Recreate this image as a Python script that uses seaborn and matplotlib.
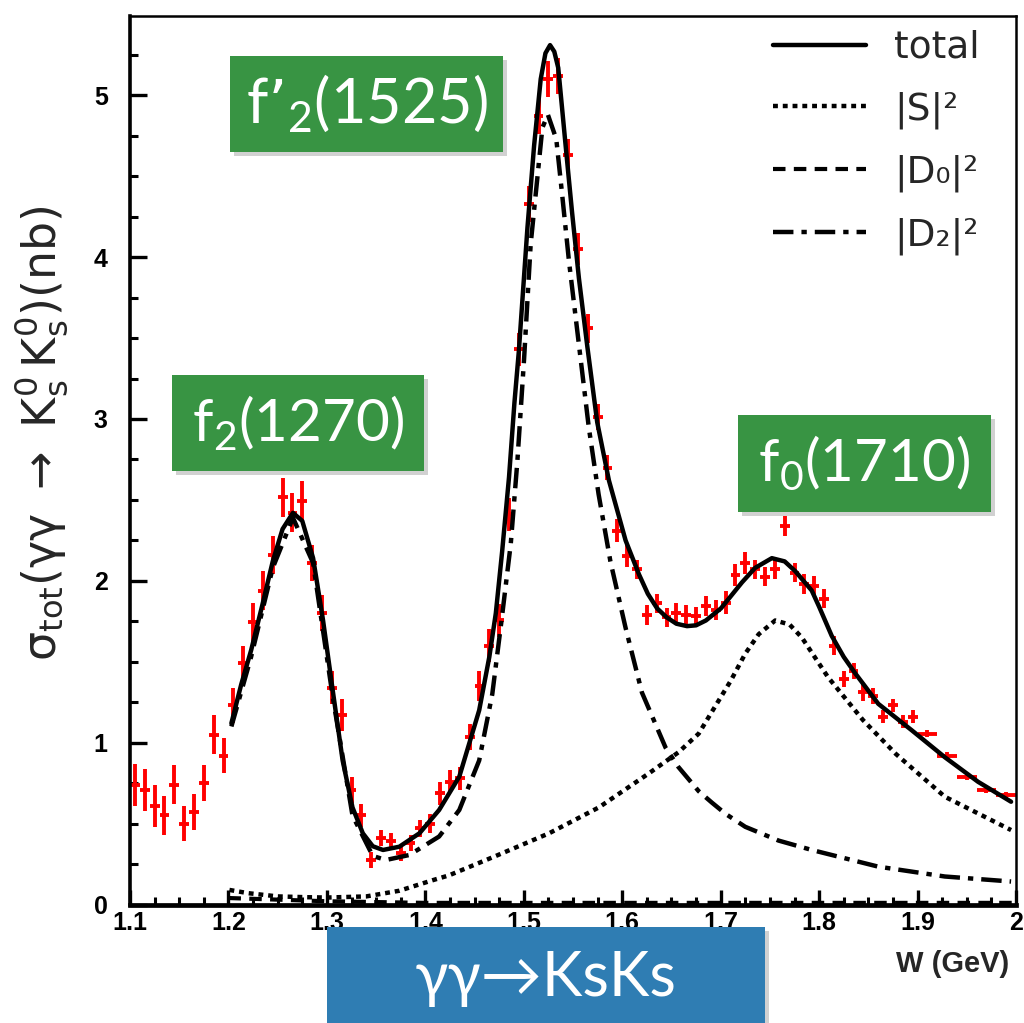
import matplotlib
matplotlib.use('Agg')
import matplotlib.pyplot as plt
from matplotlib.patches import Rectangle
from matplotlib.ticker import MultipleLocator
import seaborn as sns

# ------------------------------------------------------------
# measured cross section, gamma gamma -> Ks Ks (read off the figure)
# ------------------------------------------------------------
w_data = [1.105, 1.115, 1.125, 1.135, 1.145, 1.155, 1.165, 1.175, 1.185, 1.195,
          1.205, 1.215, 1.225, 1.235, 1.245, 1.255, 1.265, 1.275, 1.285, 1.295,
          1.305, 1.315, 1.325, 1.335, 1.345, 1.355, 1.365, 1.375, 1.385, 1.395,
          1.405, 1.415, 1.425, 1.435, 1.445, 1.455, 1.465, 1.475, 1.485, 1.495,
          1.505, 1.515, 1.525, 1.535, 1.545, 1.555, 1.565, 1.575, 1.585, 1.595,
          1.605, 1.615, 1.625, 1.635, 1.645, 1.655, 1.665, 1.675, 1.685, 1.695,
          1.705, 1.715, 1.725, 1.735, 1.745, 1.755, 1.765, 1.775, 1.785, 1.795,
          1.805, 1.815, 1.825, 1.835, 1.845, 1.855, 1.865, 1.875, 1.885, 1.895,
          1.91, 1.93, 1.95, 1.97, 1.99]
sigma_data = [0.74, 0.71, 0.61, 0.55, 0.74, 0.50, 0.57, 0.75, 1.05, 0.92,
              1.23, 1.49, 1.745, 1.94, 2.16, 2.515, 2.42, 2.495, 2.11, 1.80,
              1.34, 1.17, 0.71, 0.55, 0.275, 0.41, 0.39, 0.32, 0.38, 0.47,
              0.50, 0.686, 0.76, 0.78, 1.036, 1.35, 1.60, 1.755, 2.41, 3.43,
              4.33, 4.87, 5.10, 5.12, 4.63, 4.05, 3.56, 3.01, 2.70, 2.31,
              2.155, 2.07, 1.79, 1.86, 1.775, 1.80, 1.79, 1.78, 1.845, 1.82,
              1.865, 2.035, 2.11, 2.07, 2.025, 2.07, 2.34, 2.05, 1.98, 1.97,
              1.89, 1.60, 1.395, 1.445, 1.31, 1.29, 1.16, 1.23, 1.13, 1.16,
              1.056, 0.92, 0.79, 0.71, 0.676]
sigma_err = [0.13, 0.13, 0.13, 0.12, 0.12, 0.11, 0.11, 0.11, 0.12, 0.11,
             0.11, 0.11, 0.12, 0.12, 0.12, 0.12, 0.12, 0.12, 0.11, 0.11,
             0.10, 0.10, 0.08, 0.07, 0.05, 0.05, 0.05, 0.05, 0.05, 0.05,
             0.06, 0.07, 0.07, 0.07, 0.08, 0.09, 0.10, 0.10, 0.10, 0.10,
             0.11, 0.11, 0.11, 0.11, 0.10, 0.10, 0.09, 0.08, 0.08, 0.07,
             0.07, 0.06, 0.06, 0.06, 0.06, 0.06, 0.06, 0.06, 0.06, 0.06,
             0.07, 0.07, 0.07, 0.06, 0.06, 0.06, 0.06, 0.06, 0.06, 0.06,
             0.06, 0.06, 0.05, 0.05, 0.05, 0.05, 0.04, 0.04, 0.04, 0.04,
             0.02, 0.02, 0.02, 0.02, 0.02]
w_err = [0.005] * 80 + [0.01] * 5

# ------------------------------------------------------------
# fit curves (sampled off the figure)
# ------------------------------------------------------------
w_total = [1.203, 1.213, 1.223, 1.234, 1.245, 1.255, 1.2655, 1.275, 1.286, 1.296,
           1.306, 1.316, 1.326, 1.3365, 1.3466, 1.357, 1.3736, 1.394, 1.414, 1.4345,
           1.4547, 1.465, 1.4716, 1.478, 1.485, 1.4905, 1.495, 1.5037, 1.5105, 1.5172,
           1.522, 1.5267, 1.531, 1.535, 1.5425, 1.549, 1.556, 1.5645, 1.5746, 1.5865,
           1.6034, 1.617, 1.626, 1.6354, 1.645, 1.655, 1.6658, 1.675, 1.685, 1.7003,
           1.7216, 1.735, 1.752, 1.765, 1.7757, 1.7925, 1.80, 1.8128, 1.825, 1.8365,
           1.8601, 1.894, 1.9277, 1.9615, 1.995]
sigma_total = [1.12, 1.36, 1.57, 1.84, 2.12, 2.32, 2.42, 2.37, 2.14, 1.76,
               1.32, 0.89, 0.60, 0.44, 0.36, 0.337, 0.357, 0.44, 0.584, 0.79,
               1.20, 1.53, 1.80, 2.18, 2.64, 3.10, 3.42, 4.18, 4.69, 5.10,
               5.26, 5.31, 5.27, 5.17, 4.69, 4.28, 3.87, 3.45, 2.98, 2.62,
               2.25, 2.04, 1.92, 1.83, 1.775, 1.735, 1.72, 1.725, 1.755, 1.83,
               1.99, 2.08, 2.14, 2.12, 2.06, 1.94, 1.84, 1.66, 1.53, 1.43,
               1.24, 1.077, 0.91, 0.758, 0.635]

w_s = [1.201, 1.22, 1.25, 1.28, 1.30, 1.34, 1.3736, 1.4074, 1.424, 1.4716,
       1.5257, 1.5763, 1.627, 1.657, 1.6777, 1.691, 1.71, 1.725, 1.7386, 1.7554,
       1.77, 1.7824, 1.809, 1.8445, 1.878, 1.9277, 1.995]
sigma_s = [0.09, 0.07, 0.05, 0.045, 0.043, 0.05, 0.085, 0.15, 0.18, 0.30,
           0.44, 0.60, 0.81, 0.94, 1.056, 1.19, 1.38, 1.55, 1.67, 1.755,
           1.73, 1.65, 1.405, 1.14, 0.93, 0.666, 0.46]

w_d0 = [1.2, 1.25, 1.3, 1.35, 1.4, 1.5, 1.6, 1.8, 2.0]
sigma_d0 = [0.04, 0.03, 0.02, 0.015, 0.01, 0.01, 0.01, 0.01, 0.01]

w_d2 = [1.203, 1.223, 1.245, 1.2655, 1.286, 1.306, 1.326, 1.3466, 1.36, 1.3838,
        1.414, 1.4345, 1.4547, 1.468, 1.4775, 1.4868, 1.4935, 1.5003, 1.507, 1.5138,
        1.5189, 1.5245, 1.533, 1.539, 1.546, 1.556, 1.566, 1.576, 1.588, 1.6034,
        1.620, 1.644, 1.657, 1.6777, 1.691, 1.705, 1.725, 1.7588, 1.7925, 1.860,
        1.9277, 1.995]
sigma_d2 = [1.10, 1.53, 2.08, 2.39, 2.11, 1.28, 0.55, 0.30, 0.275, 0.306,
            0.42, 0.584, 0.89, 1.30, 1.76, 2.23, 2.74, 3.37, 4.08, 4.49,
            4.80, 4.88, 4.73, 4.385, 3.97, 3.46, 2.95, 2.535, 2.12, 1.71,
            1.31, 0.97, 0.85, 0.70, 0.63, 0.56, 0.48, 0.395, 0.337, 0.234,
            0.173, 0.142]

x_ticks = [1.1, 1.2, 1.3, 1.4, 1.5, 1.6, 1.7, 1.8, 1.9, 2.0]
x_tick_labels = ['1.1', '1.2', '1.3', '1.4', '1.5', '1.6', '1.7', '1.8', '1.9', '2']
y_ticks = [0, 1, 2, 3, 4, 5]
y_tick_labels = ['0', '1', '2', '3', '4', '5']

curve_labels = ['total', '|S|²', '|D₀|²', '|D₂|²']

# ------------------------------------------------------------
sns.set_theme(style='ticks')
plt.rcParams['font.family'] = ['DejaVu Sans']
# ROOT-like inward ticks, left and bottom only
plt.rcParams.update({
    'xtick.direction': 'in', 'ytick.direction': 'in',
    'xtick.color': 'black', 'ytick.color': 'black',
    'xtick.major.size': 11, 'ytick.major.size': 12,
    'xtick.major.width': 2.4, 'ytick.major.width': 2.4,
    'xtick.minor.size': 5.5, 'ytick.minor.size': 5.5,
    'xtick.minor.width': 2.2, 'ytick.minor.width': 2.2,
    'xtick.minor.visible': True, 'ytick.minor.visible': True,
    'xtick.top': False, 'ytick.right': False,
    'xtick.labelsize': 18, 'ytick.labelsize': 18,
})

W, H = 1024, 1023
fig = plt.figure(figsize=(W / 100, H / 100), dpi=100)
ax = fig.add_axes([130 / W, 1 - 904.5 / H, 886 / W, 888.5 / H])

# data points: red crosses, no markers
ax.errorbar(w_data, sigma_data, xerr=w_err, yerr=sigma_err, fmt='none',
            ecolor='red', elinewidth=2.8, capsize=0, zorder=2)

dotted = (0, (1.1, 1.1))
dashed = (0, (3.0, 2.0))
dashdot = (0, (4.6, 1.8, 1.2, 1.8))

sns.lineplot(x=w_total, y=sigma_total, ax=ax, color='black', lw=3.2,
             linestyle='-', label=curve_labels[0], zorder=4)
sns.lineplot(x=w_s, y=sigma_s, ax=ax, color='black', lw=3.2,
             linestyle=dotted, label=curve_labels[1], zorder=3)
sns.lineplot(x=w_d0, y=sigma_d0, ax=ax, color='black', lw=3.0,
             linestyle=dashed, label=curve_labels[2], zorder=3)
sns.lineplot(x=w_d2, y=sigma_d2, ax=ax, color='black', lw=3.2,
             linestyle=dashdot, label=curve_labels[3], zorder=3)

tick_font = dict(fontsize=18, fontweight='bold', fontfamily='Liberation Sans')
ax.set_xlim(1.1, 2.0)
ax.set_ylim(0, 5.49)
ax.set_xticks(x_ticks, labels=x_tick_labels, **tick_font)
ax.set_yticks(y_ticks, labels=y_tick_labels, **tick_font)
ax.xaxis.set_minor_locator(MultipleLocator(0.025))
ax.yaxis.set_minor_locator(MultipleLocator(0.25))
ax.tick_params(axis='x', which='major', pad=5)
ax.tick_params(axis='y', which='major', pad=16)

ax.spines['left'].set_linewidth(2.6)
ax.spines['bottom'].set_linewidth(3.4)
ax.spines['top'].set_linewidth(1.8)
ax.spines['right'].set_linewidth(1.8)
for sp in ax.spines.values():
    sp.set_color('black')
ax.set_xlabel('')
ax.set_ylabel('')

leg = ax.legend(loc='upper right', bbox_to_anchor=(980 / W, 1 - 30 / H),
                bbox_transform=fig.transFigure, frameon=False, fontsize=27,
                handlelength=2.5, handletextpad=0.75, labelspacing=0.68,
                borderpad=0, borderaxespad=0)

fig.text(41 / W, 1 - 433 / H,
         r'$\mathregular{\sigma_{tot}(\gamma\gamma\ \rightarrow\ K^0_s\,K^0_s)(nb)}$',
         rotation=90, ha='center', va='center', fontsize=33)
fig.text(953 / W, 1 - 964 / H, 'W (GeV)', ha='center', va='center',
         fontsize=21, fontfamily='Liberation Sans', fontweight='bold')


def add_label_box(x0, y0, x1, y1, text, color, size):
    """Coloured annotation box in pixel coordinates (origin top-left)."""
    fig.patches.append(Rectangle(((x0 + 4) / W, 1 - (y1 + 4) / H), (x1 - x0) / W, (y1 - y0) / H,
                                 transform=fig.transFigure, fc=(0, 0, 0, 0.18), ec='none', zorder=5))
    fig.patches.append(Rectangle((x0 / W, 1 - y1 / H), (x1 - x0) / W, (y1 - y0) / H,
                                 transform=fig.transFigure, fc=color, ec='none', zorder=6))
    fig.text((x0 + x1) / 2 / W, 1 - (y0 + y1) / 2 / H, text, ha='center', va='center',
             color='white', fontsize=size, family=['Lato', 'DejaVu Sans'], zorder=7)


green = '#389443'
add_label_box(230, 56, 503, 152, 'f\u2019$_\\mathregular{2}$(1525)', green, 44)
add_label_box(172, 375, 424, 471, 'f$_\\mathregular{2}$(1270)', green, 42)
add_label_box(738, 415, 991, 512, 'f$_\\mathregular{0}$(1710)', green, 42)
add_label_box(327, 927, 765, 1030, 'γγ→KsKs', '#2f7db3', 44)

fig.savefig('out.png', dpi=100)
plt.close(fig)
